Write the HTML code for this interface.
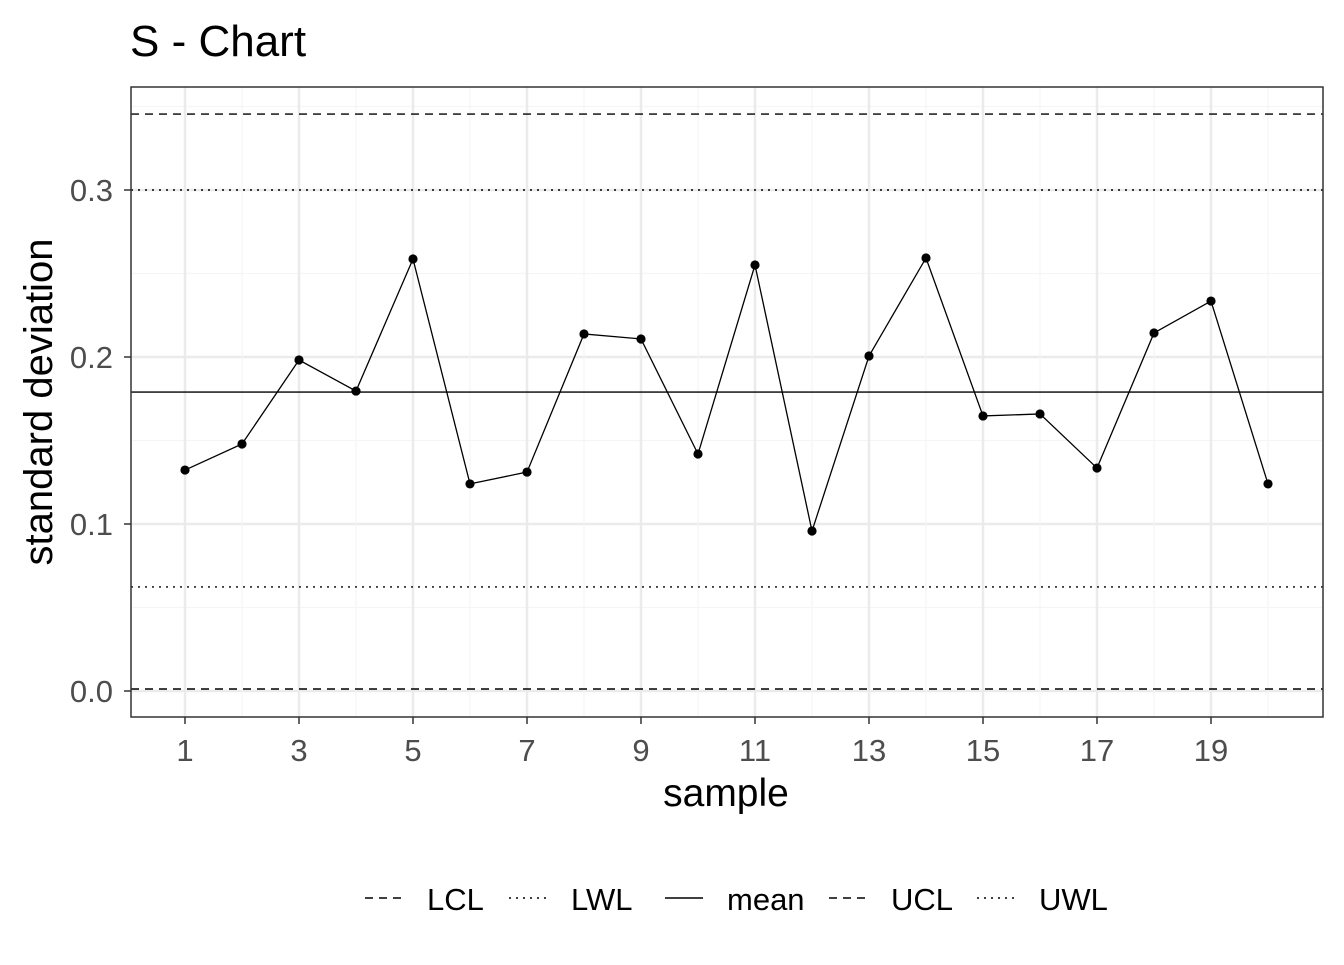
<!DOCTYPE html>
<html><head><meta charset="utf-8"><style>
html,body{margin:0;padding:0;background:#fff;}
svg text{font-family:"Liberation Sans",Arial,sans-serif;}
</style></head><body>
<svg id="chart" width="1344" height="960" xmlns="http://www.w3.org/2000/svg">
<text x="130" y="56" font-size="44" fill="#000">S - Chart</text>
<g id="grid"></g>
<g id="limits"></g>
<g id="series"></g>
<rect x="131" y="87" width="1192" height="630" fill="none" stroke="#333" stroke-width="1.5"/>
<g id="axes"></g>
<text x="726" y="806" font-size="39" text-anchor="middle" fill="#000">sample</text>
<text transform="translate(52,402) rotate(-90)" font-size="40" text-anchor="middle" fill="#000">standard deviation</text>
<g id="legend"></g>
</svg>
<script>
const samples=[1,2,3,4,5,6,7,8,9,10,11,12,13,14,15,16,17,18,19,20];
const sdValues=[0.1323,0.1479,0.1982,0.1796,0.2587,0.1240,0.1311,0.2138,0.2108,0.1419,0.2551,0.0958,0.2006,0.2593,0.1647,0.1659,0.1335,0.2144,0.2335,0.1240];
const limitNames=["LCL","LWL","mean","UCL","UWL"];
const limitValues=[0.0012,0.0623,0.179,0.3455,0.300];
const yTicks=[0.0,0.1,0.2,0.3];
const yTickLabels=["0.0","0.1","0.2","0.3"];
const xTicks=[1,3,5,7,9,11,13,15,17,19];
const NS="http://www.w3.org/2000/svg";
const X0=131,X1=1323,Y0=87,Y1=717;
const xs=v=>185+(v-1)*57;
const ys=v=>691-v*1670;
function mk(tag,attrs,parent){const e=document.createElementNS(NS,tag);for(const k in attrs)e.setAttribute(k,attrs[k]);parent.appendChild(e);return e;}
const dash={LCL:"8,6",UCL:"8,6",LWL:"2,5",UWL:"2,5",mean:""};
const grid=document.getElementById('grid');
for(let v=0;v<=0.35;v+=0.05){const y=ys(v);if(y<Y0||y>Y1)continue;const major=Math.abs(v*10-Math.round(v*10))<1e-6;
const l=mk('line',{x1:X0,x2:X1,y1:y,y2:y,stroke:major?"#ebebeb":"#f5f5f5","stroke-width":major?2.5:1.2},grid);

}
for(let s=1;s<=21;s++){const x=xs(s);if(x>X1)continue;const major=s%2===1;
const l=mk('line',{x1:x,x2:x,y1:Y0,y2:Y1,stroke:major?"#ebebeb":"#f5f5f5","stroke-width":major?2.5:1.2},grid);

}
const lim=document.getElementById('limits');
limitNames.forEach((n,i)=>{const y=ys(limitValues[i]);
const l=mk('line',{x1:X0,x2:X1,y1:y,y2:y,stroke:"#000","stroke-width":1.4,"stroke-dasharray":dash[n]},lim);

});
const ser=document.getElementById('series');
const pl=mk('polyline',{points:samples.map((s,i)=>xs(s)+","+ys(sdValues[i])).join(" "),fill:"none",stroke:"#000","stroke-width":1.3},ser);


samples.forEach((s,i)=>{const c=mk('circle',{cx:xs(s),cy:ys(sdValues[i]),r:4.6,fill:"#000"},ser);

});
const ax=document.getElementById('axes');
yTicks.forEach((v,i)=>{const y=ys(v);
const t=mk('line',{x1:124,x2:131,y1:y,y2:y,stroke:"#333","stroke-width":1.5},ax);


const tx=mk('text',{x:113,y:y+11,"font-size":31,"text-anchor":"end",fill:"#4d4d4d"},ax);tx.textContent=yTickLabels[i];

});
xTicks.forEach(v=>{const x=xs(v);
const t=mk('line',{x1:x,x2:x,y1:717,y2:724,stroke:"#333","stroke-width":1.5},ax);


const tx=mk('text',{x:x,y:761,"font-size":31,"text-anchor":"middle",fill:"#4d4d4d"},ax);tx.textContent=String(v);

});
const lg=document.getElementById('legend');
const lgX=[365,509,665,829,977];
limitNames.forEach((n,i)=>{const x=lgX[i];
const g=mk('g',{},lg);


mk('line',{x1:x,x2:x+38,y1:898,y2:898,stroke:"#000","stroke-width":1.4,"stroke-dasharray":dash[n]},g);
const t=mk('text',{x:x+62,y:910,"font-size":31,fill:"#000"},g);t.textContent=n;});
</script>
</body></html>
